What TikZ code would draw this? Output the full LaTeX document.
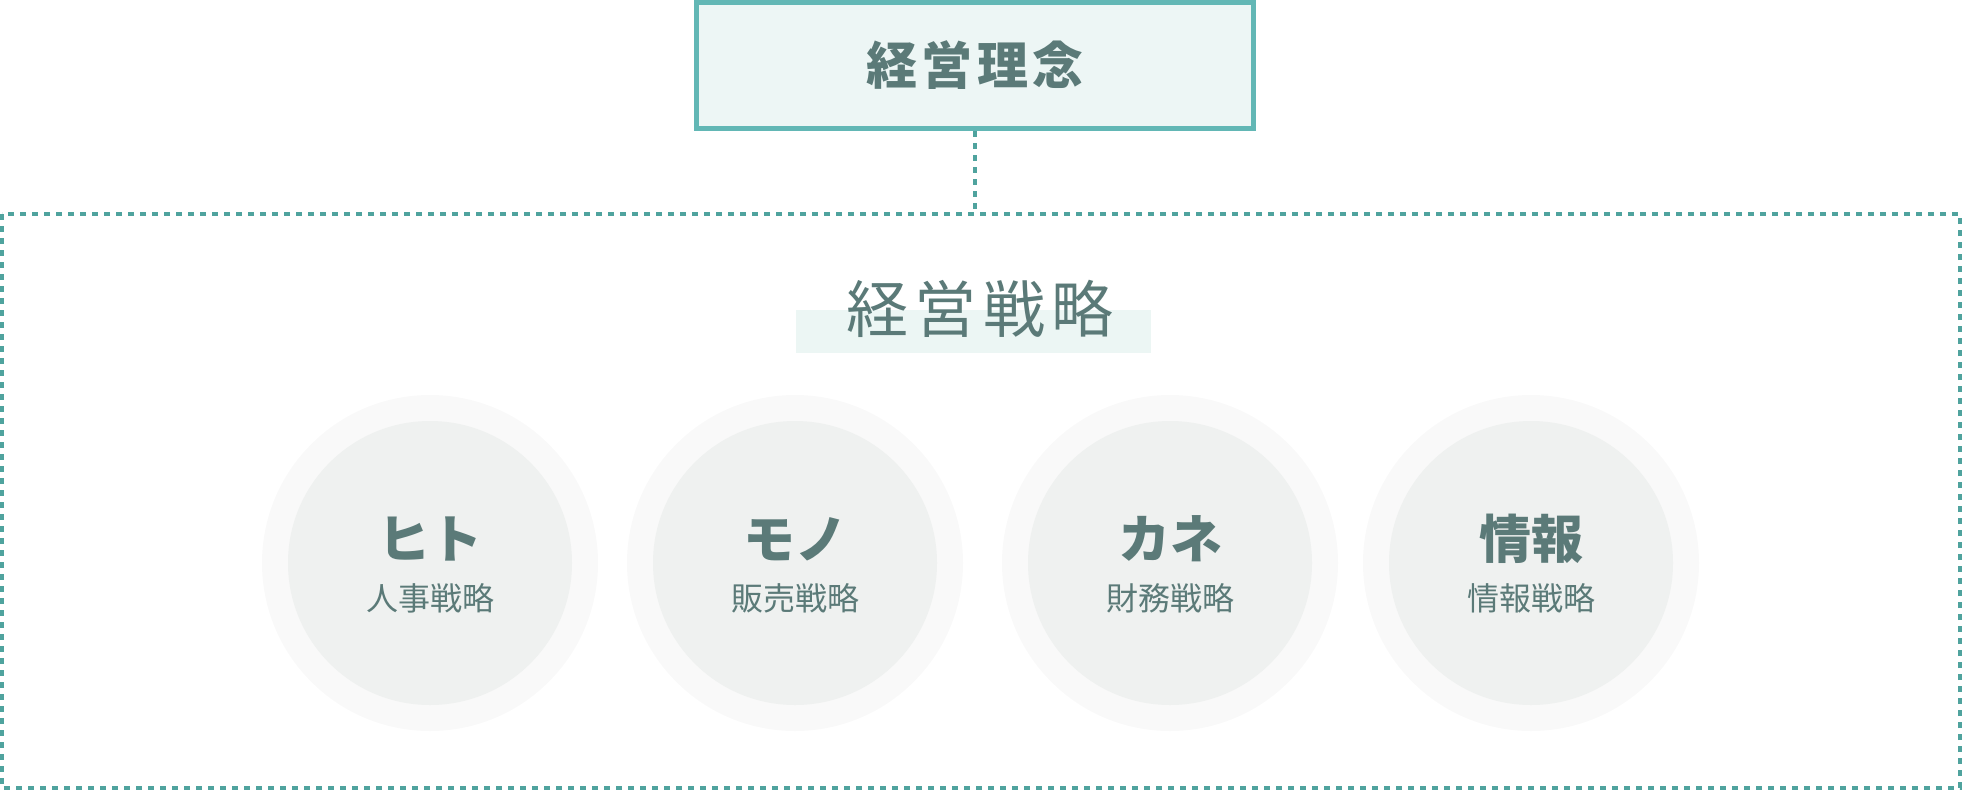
\documentclass[tikz,border=0pt]{standalone}
\usepackage{fontspec}
\newfontfamily\jpfont{Noto Sans CJK JP}
\usetikzlibrary{positioning}
\definecolor{boxline}{HTML}{62B7B5}
\definecolor{boxfill}{HTML}{EDF6F5}
\definecolor{dotline}{HTML}{4FA39E}
\definecolor{labelink}{HTML}{5B7A78}
\definecolor{ringouter}{HTML}{F9F9F9}
\definecolor{ringinner}{HTML}{EFF1F0}
\definecolor{barfill}{HTML}{ECF6F4}
\tikzset{
  dotted frame/.style={dotline, line width=4pt, dash pattern=on 6pt off 6pt},
  philobox/.style={draw=boxline, fill=boxfill, line width=5pt, minimum width=557pt, minimum height=126pt, inner sep=0pt},
  outerring/.style={circle, fill=ringouter, minimum size=336pt, inner sep=0pt},
  innerring/.style={circle, fill=ringinner, minimum size=284pt, inner sep=0pt},
  mainlabel/.style={text=labelink, inner sep=0pt, font=\jpfont\bfseries\fontsize{52}{60}\selectfont},
  sublabel/.style={text=labelink, inner sep=0pt, font=\jpfont\fontsize{32}{38}\selectfont}
}
\begin{document}
\begin{tikzpicture}[x=1pt, y=-1pt]
  \useasboundingbox (0,0) rectangle (1962,790);
  % frame of the strategy part
  \draw[dotted frame] (2,214) rectangle (1960,788);
  \coordinate (frametop) at (975,214);
  % top box
  \node[philobox] (philosophy) at (975,65.5)
    {\jpfont\bfseries\fontsize{51}{58}\selectfont\addfontfeature{LetterSpace=9}\textcolor{labelink}{経営理念}};
  \draw[dotted frame] (philosophy.south) -- (frametop);
  % title
  \node[fill=barfill, minimum width=355pt, minimum height=43pt, inner sep=0pt] (titlebar) at (973.5,331.5) {};
  \node[text=labelink, inner sep=0pt, font=\jpfont\fontsize{62}{70}\selectfont\addfontfeature{LetterSpace=10}] (title) at (980,309) {経営戦略};
  % four circles
  \foreach \cx/\id/\main/\sub in {430/hito/ヒト/人事戦略, 795/mono/モノ/販売戦略, 1170/kane/カネ/財務戦略, 1531/info/情報/情報戦略}{
    \node[outerring] (\id) at (\cx,563) {};
    \node[innerring] (\id in) at (\id.center) {};
    \node[mainlabel] (\id main) at (\cx,539) {\main};
    \node[sublabel] (\id sub) at (\cx,598) {\sub};
  }
\end{tikzpicture}
\end{document}
